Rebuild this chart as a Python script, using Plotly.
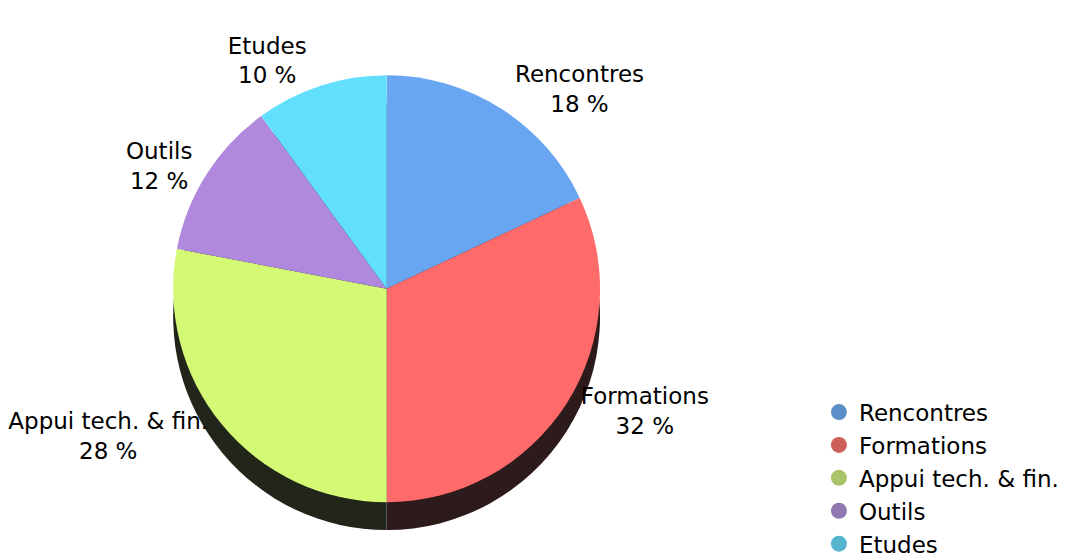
import plotly.graph_objects as go

categories = ["Rencontres", "Formations", "Appui tech. & fin.", "Outils", "Etudes"]
values = [18, 32, 28, 12, 10]
slice_colors = ["#68a6f2", "#fe6b6a", "#d3f975", "#b088dd", "#62dffd"]
shadow_colors = ["#1c2a3c", "#2d1a1a", "#22251a", "#2a2030", "#1a2a30"]
legend_colors = ["#5b8fc8", "#cd6058", "#a9c46a", "#9079b0", "#55b5cf"]

FONT = "DejaVu Sans"

fig = go.Figure()

# depth / shadow layer
fig.add_trace(go.Pie(
    labels=categories, values=values, sort=False, direction="clockwise", rotation=0,
    marker=dict(colors=shadow_colors, line=dict(width=0)),
    textinfo="none", hoverinfo="skip", showlegend=False,
    domain=dict(x=[0.158, 0.552], y=[0.05, 0.815]),
))

# top face
fig.add_trace(go.Pie(
    labels=categories, values=values, sort=False, direction="clockwise", rotation=0,
    marker=dict(colors=slice_colors, line=dict(width=0)),
    texttemplate="%{label}<br>%{value} %", textposition="outside",
    outsidetextfont=dict(family=FONT, size=23, color="black"),
    showlegend=False, automargin=False,
    domain=dict(x=[0.158, 0.552], y=[0.1, 0.865]),
))

# legend entries with circular markers
for name, col in zip(categories, legend_colors):
    fig.add_trace(go.Scatter(
        x=[None], y=[None], mode="markers", name=name,
        marker=dict(symbol="circle", size=22, color=col),
        showlegend=True,
    ))

fig.update_layout(
    width=1089, height=558,
    margin=dict(l=0, r=0, t=0, b=0, autoexpand=False),
    paper_bgcolor="white", plot_bgcolor="white",
    font=dict(family=FONT, size=23, color="black"),
    xaxis=dict(visible=False), yaxis=dict(visible=False),
    legend=dict(
        x=0.752, y=0.3, xanchor="left", yanchor="top",
        font=dict(family=FONT, size=23, color="black"),
        itemsizing="trace", tracegroupgap=0,
        bgcolor="rgba(0,0,0,0)",
    ),
)

fig.write_html("out.html")
